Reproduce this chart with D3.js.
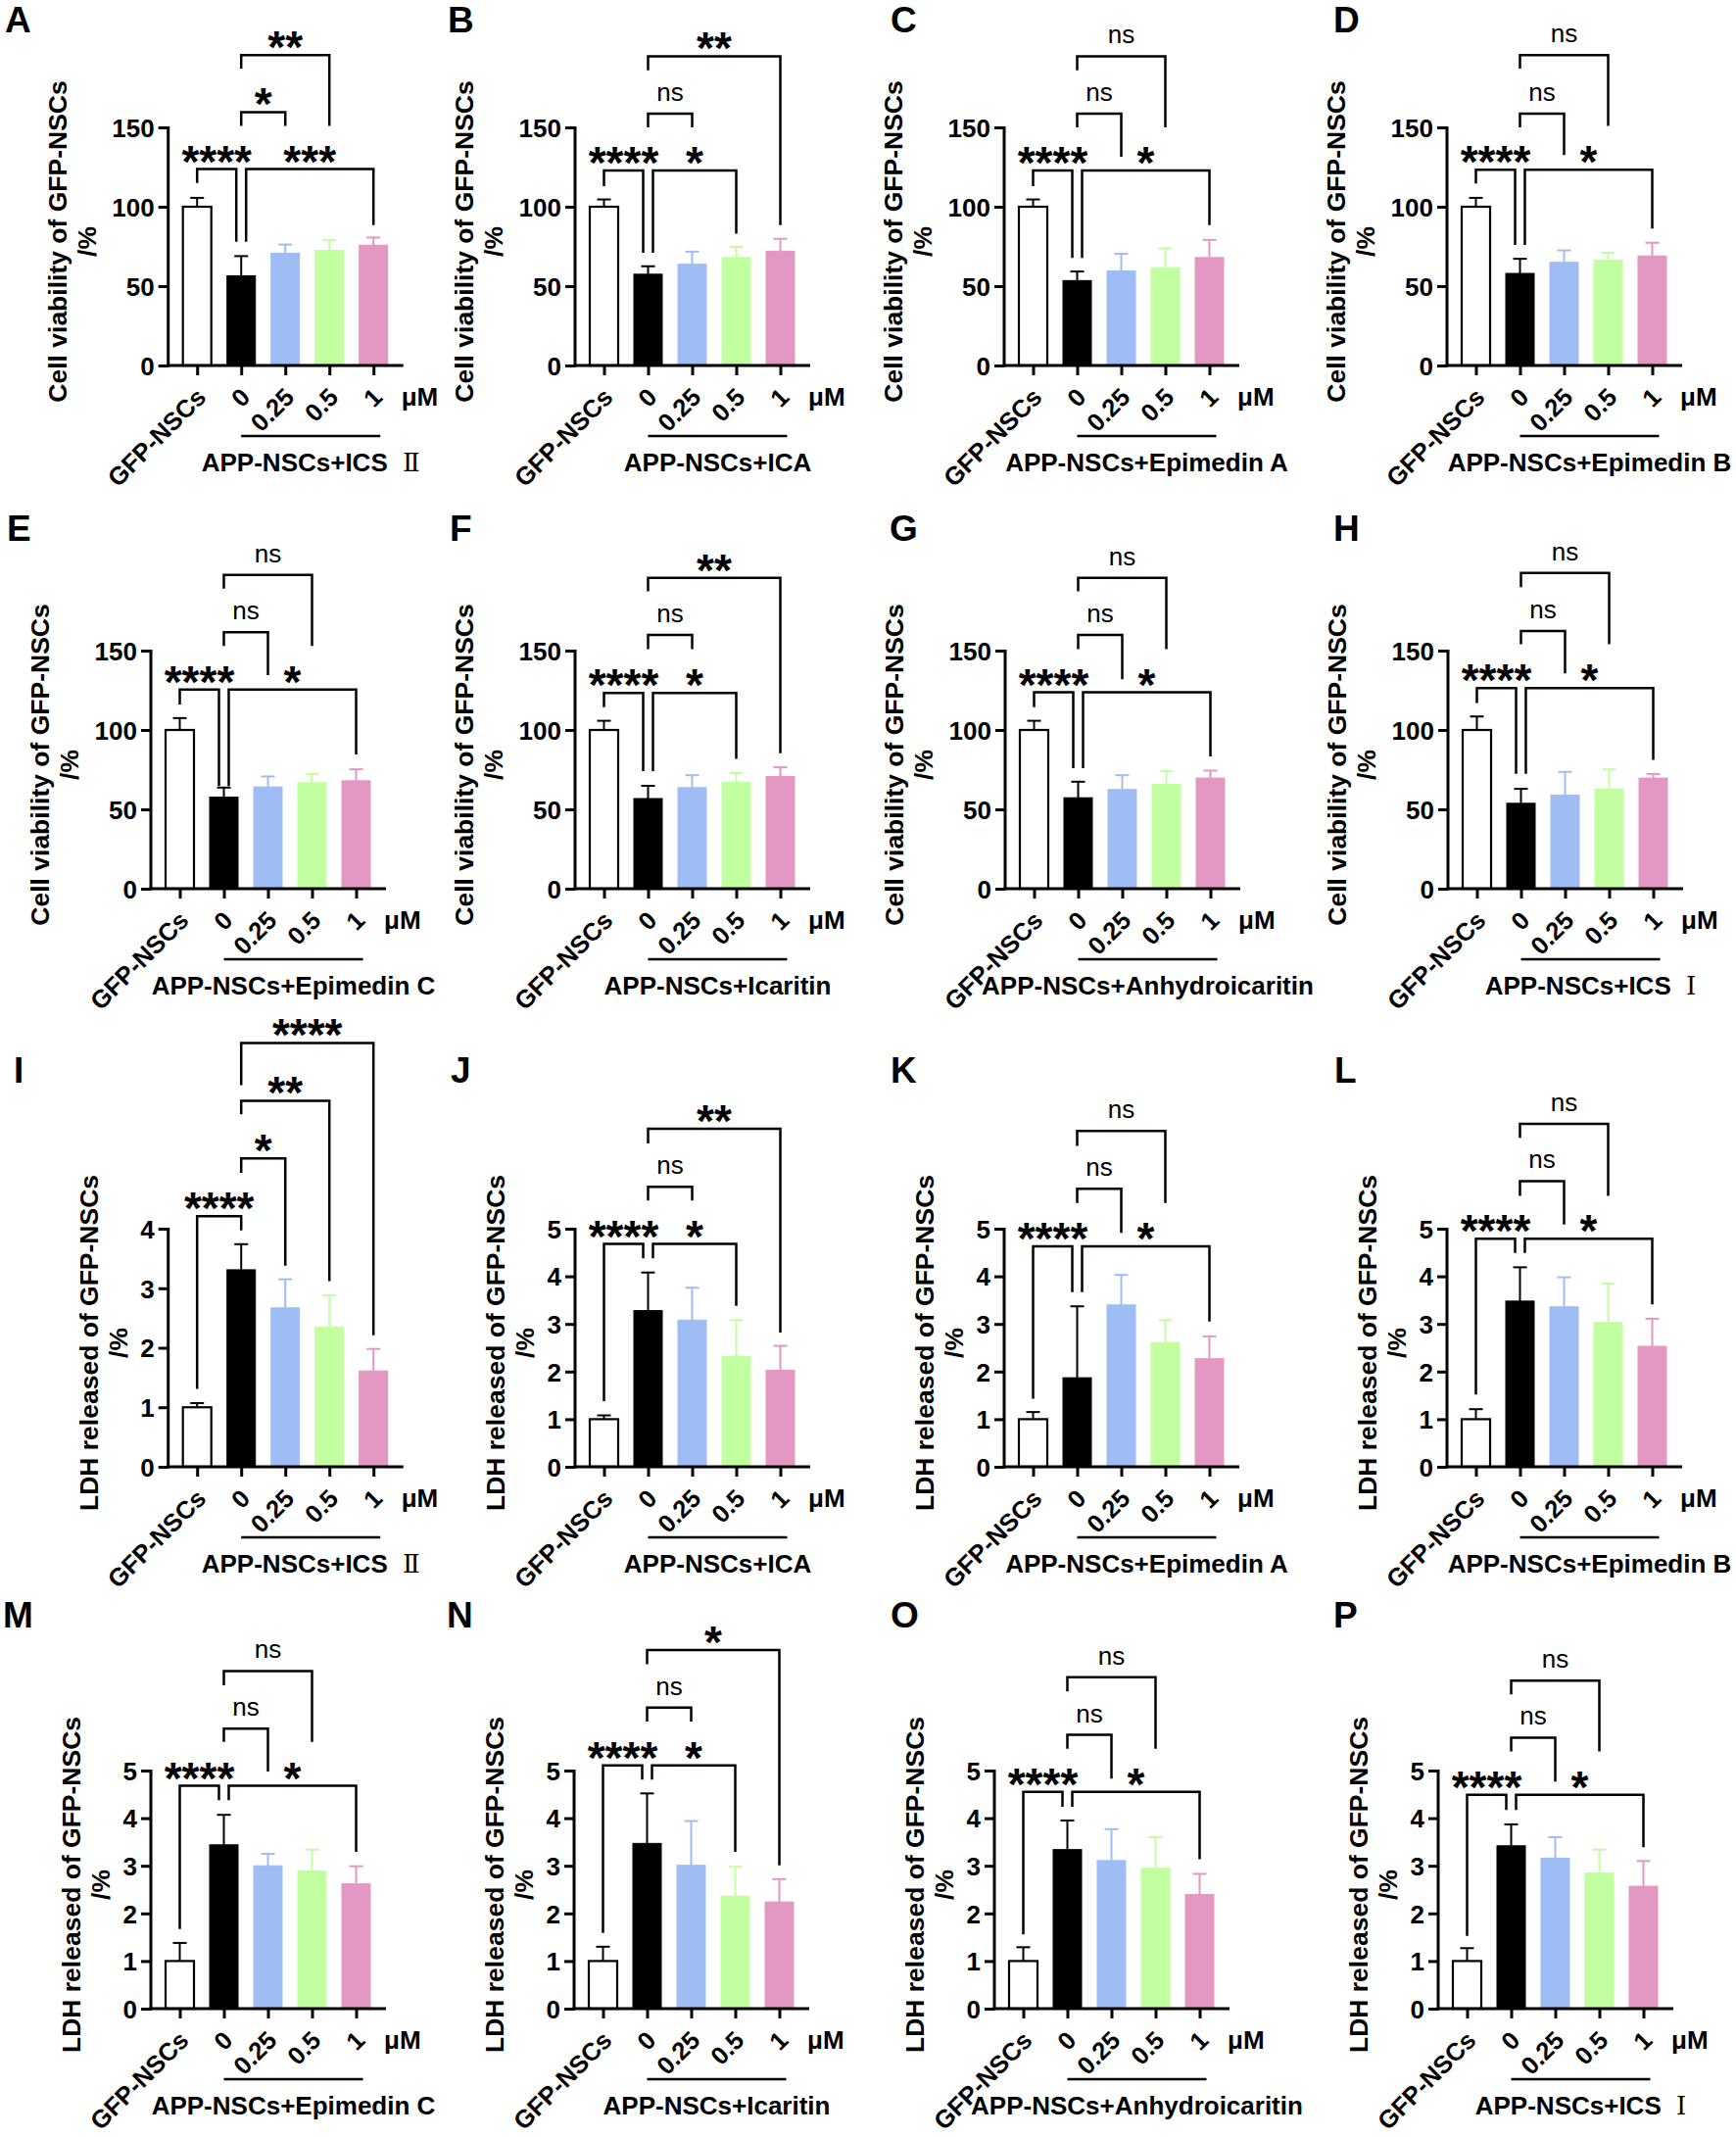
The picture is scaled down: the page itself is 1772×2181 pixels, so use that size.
<!DOCTYPE html>
<html>
<head>
<meta charset="utf-8">
<script src="https://cdn.jsdelivr.net/npm/d3@7"></script>
<style>
  body { margin: 0; background: #fff; }
  svg { display: block; }
</style>
</head>
<body>
<div id="chart"></div>
<script>
// ---- data ----
const panelLetters = ['A','B','C','D','E','F','G','H','I','J','K','L','M','N','O','P']
const compounds = ['ICS Ⅱ', 'ICA', 'Epimedin A', 'Epimedin B', 'Epimedin C', 'Icaritin', 'Anhydroicaritin', 'ICS Ⅰ']
const groups = ['GFP-NSCs', '0', '0.25', '0.5', '1']
const unitLabel = 'μM'
const viabilityTitle = 'Cell viability of GFP-NSCs'
const ldhTitle = 'LDH released of GFP-NSCs'
const viabilityTicks = [0, 50, 100, 150]
const ldhTicks = [0, 1, 2, 3, 4, 5]
const ldhTicksFirst = [0, 1, 2, 3, 4]

// cell viability (%) mean and SD, panels A-H
const viabilityMean = [
	[100, 56.5, 70.7, 72.5, 75.8],
	[100, 57.5, 63.8, 68, 72],
	[100, 53.5, 59.6, 61.6, 68],
	[100, 58, 65, 66.5, 69],
	[100, 57.7, 64.1, 66.8, 68],
	[100, 56.8, 63.7, 67.2, 70.7],
	[100, 57.3, 62.5, 65.7, 69.7],
	[100, 53.8, 59, 62.9, 69.7]
]
const viabilitySd = [
	[5.6, 12.4, 5.5, 6.4, 4.8],
	[4.6, 5, 7.9, 6.8, 7.8],
	[4.6, 5.7, 10.7, 12.2, 11.1],
	[5.6, 9.2, 7.5, 4.5, 8.3],
	[7.5, 6, 6.6, 5.5, 7.2],
	[5.8, 8, 7.8, 5.7, 5.8],
	[5.8, 10.1, 9, 8.3, 4.7],
	[8.5, 9.1, 14.6, 12.3, 2.6]
]
// LDH release mean and SD, panels I-P
const ldhMean = [
	[1, 3.31, 2.67, 2.35, 1.61],
	[1, 3.28, 3.08, 2.32, 2.03],
	[1, 1.87, 3.40, 2.61, 2.27],
	[1, 3.48, 3.36, 3.03, 2.53],
	[1, 3.44, 3.0, 2.89, 2.62],
	[1, 3.47, 3.01, 2.36, 2.24],
	[1, 3.34, 3.11, 2.95, 2.40],
	[1, 3.42, 3.16, 2.85, 2.57]
]
const ldhSd = [
	[0.07, 0.43, 0.48, 0.53, 0.37],
	[0.08, 0.8, 0.68, 0.76, 0.51],
	[0.15, 1.5, 0.63, 0.47, 0.47],
	[0.21, 0.71, 0.62, 0.82, 0.58],
	[0.38, 0.63, 0.25, 0.45, 0.37],
	[0.3, 1.05, 0.93, 0.62, 0.48],
	[0.29, 0.61, 0.66, 0.65, 0.43],
	[0.27, 0.45, 0.44, 0.49, 0.53]
]
// significance brackets: [group from, group to, bracket level, left leg end, right leg end, label]
const viabilityBrackets = [
	[[0, 1, 123.7, 115, 78, '****'], [1, 4, 123.7, 78, 88.5, '***'], [1, 2, 159.6, 151, 151, '*'], [1, 3, 195.6, 187, 151, '**']],
	[[0, 1, 122.9, 113, 71, '****'], [1, 3, 122.9, 71, 83, '*'], [1, 2, 158.6, 150, 150, 'ns'], [1, 4, 194.8, 186, 88.4, '**']],
	[[0, 1, 122.9, 113, 67.8, '****'], [1, 4, 122.9, 67.8, 88.4, '*'], [1, 2, 158.6, 150, 131.5, 'ns'], [1, 3, 194.8, 186, 150, 'ns']],
	[[0, 1, 123.3, 114.6, 76, '****'], [1, 4, 123.3, 76, 86.3, '*'], [1, 2, 158.6, 150, 132.5, 'ns'], [1, 3, 195.6, 187, 151, 'ns']],
	[[0, 1, 125.5, 116, 64.7, '****'], [1, 4, 125.5, 64.7, 84.5, '*'], [1, 2, 161.5, 153, 134.5, 'ns'], [1, 3, 197.7, 189, 153, 'ns']],
	[[0, 1, 123.3, 114.4, 74, '****'], [1, 3, 123.3, 74, 81.8, '*'], [1, 2, 159.9, 151, 151, 'ns'], [1, 4, 195.8, 187.4, 85.3, '**']],
	[[0, 1, 123.7, 114.4, 76, '****'], [1, 4, 123.7, 76, 83.4, '*'], [1, 2, 159.9, 151, 132, 'ns'], [1, 3, 195.8, 187.4, 151, 'ns']],
	[[0, 1, 126.4, 117, 72.3, '****'], [1, 4, 126.4, 72.3, 81.2, '*'], [1, 2, 162.3, 154, 135.6, 'ns'], [1, 3, 198.9, 190, 154, 'ns']]
]
const ldhBrackets = [
	[[0, 1, 4.21, 1.31, 3.97, '****'], [1, 2, 5.18, 4.94, 3.38, '*'], [1, 3, 6.15, 5.92, 3.12, '**'], [1, 4, 7.12, 6.41, 2.21, '****']],
	[[0, 1, 4.68, 1.38, 4.38, '****'], [1, 3, 4.68, 4.38, 3.38, '*'], [1, 2, 5.88, 5.59, 5.59, 'ns'], [1, 4, 7.10, 6.79, 2.82, '**']],
	[[0, 1, 4.63, 1.43, 3.67, '****'], [1, 4, 4.63, 3.67, 3.05, '*'], [1, 2, 5.84, 5.54, 4.91, 'ns'], [1, 3, 7.05, 6.74, 5.54, 'ns']],
	[[0, 1, 4.79, 1.52, 4.49, '****'], [1, 4, 4.79, 4.49, 3.41, '*'], [1, 2, 6.0, 5.69, 5.09, 'ns'], [1, 3, 7.2, 6.91, 5.69, 'ns']],
	[[0, 1, 4.68, 1.67, 4.38, '****'], [1, 4, 4.68, 4.38, 3.29, '*'], [1, 2, 5.88, 5.6, 4.98, 'ns'], [1, 3, 7.09, 6.79, 5.6, 'ns']],
	[[0, 1, 5.11, 1.59, 4.81, '****'], [1, 3, 5.11, 4.81, 3.29, '*'], [1, 2, 6.32, 6.03, 6.03, 'ns'], [1, 4, 7.53, 7.23, 3.01, '*']],
	[[0, 1, 4.55, 1.56, 4.24, '****'], [1, 4, 4.55, 4.24, 3.14, '*'], [1, 2, 5.75, 5.46, 4.83, 'ns'], [1, 3, 6.96, 6.66, 5.46, 'ns']],
	[[0, 1, 4.49, 1.53, 4.17, '****'], [1, 4, 4.49, 4.17, 3.39, '*'], [1, 2, 5.69, 5.40, 4.77, 'ns'], [1, 3, 6.89, 6.6, 5.40, 'ns']]
]

// ---- layout and style ----
const FONT = '"Liberation Sans", Arial, Helvetica, sans-serif'
const barFill = ['#ffffff', '#000000', '#9ebdf5', '#c2ffa0', '#e397c3']
const errColor = ['#000000', '#000000', '#9ebdf5', '#c2ffa0', '#e397c3']
const axisXs = [[171.7, 587, 1025, 1477], [154, 587, 1026, 1478], [171.7, 587, 1025, 1477], [154, 586, 1015, 1468]]
const zeroYs = [373, 907, 1497, 2050]
const letterXs = [[5, 457, 909, 1361], [7, 459, 908, 1361], [14, 460, 909, 1362], [3, 456, 909, 1361]]
const letterYs = [33, 552, 1105, 1661]
const axisH = 243

const svg = d3.select('#chart')
	.append('svg')
	.attr('width', 1772)
	.attr('height', 2181)
	.style('font-family', FONT)

svg.append('rect').attr('width', 1772).attr('height', 2181).attr('fill', '#fff')

function addRoman(sel, str) {
	// roman numerals drawn in a serif face, like the original
	str.split(/([ⅠⅡ])/).filter(s => s.length).forEach(s => {
		const t = sel.append('tspan').text(s)
		if (/[ⅠⅡ]/.test(s)) t.style('font-family', '"DejaVu Serif", "Liberation Serif", serif').attr('font-weight', 'normal').attr('dx', 8)
	})
}

function drawPanel(p) {
	const row = Math.floor(p / 4)
	const col = p % 4
	const ldh = row >= 2
	const k = ldh ? p - 8 : p
	const means = ldh ? ldhMean[k] : viabilityMean[k]
	const sds = ldh ? ldhSd[k] : viabilitySd[k]
	const ticks = ldh ? (k === 0 ? ldhTicksFirst : ldhTicks) : viabilityTicks
	const pairs = ldh ? ldhBrackets[k] : viabilityBrackets[k]
	const ax = axisXs[row][col]
	const zy = zeroYs[row]

	const x = d3.scalePoint()
		.domain(d3.range(groups.length))
		.range([ax + 29.5, ax + 209.5])
	const y = d3.scaleLinear()
		.domain([0, d3.max(ticks)])
		.range([zy, zy - axisH])

	const g = svg.append('g')

	g.append('text')
		.attr('x', letterXs[row][col])
		.attr('y', letterYs[row])
		.attr('font-size', 37)
		.attr('font-weight', 'bold')
		.text(panelLetters[p])

	// bars
	g.selectAll('rect.bar')
		.data(means)
		.join('rect')
		.attr('class', 'bar')
		.attr('x', (d, i) => x(i) - 14.5)
		.attr('width', 29)
		.attr('y', d => y(d))
		.attr('height', d => zy - y(d))
		.attr('fill', (d, i) => barFill[i])
		.attr('stroke', (d, i) => i === 0 ? '#000' : barFill[i])
		.attr('stroke-width', (d, i) => i === 0 ? 2.2 : 1)

	// error bars (upper only)
	const err = g.selectAll('g.err')
		.data(means)
		.join('g')
		.attr('class', 'err')
		.attr('stroke', (d, i) => errColor[i])
		.attr('stroke-width', 2)
	err.append('line')
		.attr('x1', (d, i) => x(i)).attr('x2', (d, i) => x(i))
		.attr('y1', d => y(d)).attr('y2', (d, i) => y(d + sds[i]))
	err.append('line')
		.attr('x1', (d, i) => x(i) - 7).attr('x2', (d, i) => x(i) + 7)
		.attr('y1', (d, i) => y(d + sds[i])).attr('y2', (d, i) => y(d + sds[i]))

	// y axis
	const yAxis = g.append('g')
		.attr('transform', `translate(${ax},0)`)
		.call(d3.axisLeft(y).tickValues(ticks).tickSize(10).tickSizeOuter(0).tickPadding(4).tickFormat(d3.format('d')))
		.attr('font-size', 26)
		.attr('font-family', FONT)
		.attr('font-weight', 'bold')
	yAxis.selectAll('path, line').attr('stroke', '#000').attr('stroke-width', 3)
	yAxis.select('.domain').attr('d', `M0,${zy + 1.5}V${zy - axisH - 1}`)
	yAxis.selectAll('text').attr('fill', '#000').attr('dy', '0.36em')

	// x axis
	const xAxis = g.append('g')
		.attr('transform', `translate(0,${zy})`)
		.call(d3.axisBottom(x).tickSize(10).tickSizeOuter(0).tickFormat(i => groups[i]))
		.attr('font-size', 25.5)
		.attr('font-family', FONT)
		.attr('font-weight', 'bold')
	xAxis.selectAll('path, line').attr('stroke', '#000').attr('stroke-width', 3)
	xAxis.select('.domain').attr('d', `M${ax - 1.5},0H${ax + 240}`)
	xAxis.selectAll('.tick text')
		.attr('fill', '#000')
		.attr('y', 0)
		.attr('dy', 0)
		.attr('text-anchor', 'end')
		.attr('transform', 'translate(10,34) rotate(-45)')

	g.append('text')
		.attr('x', ax + 238)
		.attr('y', zy + 41)
		.attr('font-size', 26)
		.attr('font-weight', 'bold')
		.text(unitLabel)

	const ux1 = x(1)
	const ux2 = x(4) + 7
	g.append('line')
		.attr('x1', ux1).attr('x2', ux2)
		.attr('y1', zy + 72).attr('y2', zy + 72)
		.attr('stroke', '#000').attr('stroke-width', 2.5)

	const glabel = g.append('text')
		.attr('x', (ux1 + ux2) / 2)
		.attr('y', zy + 108)
		.attr('text-anchor', 'middle')
		.attr('font-size', 26)
		.attr('font-weight', 'bold')
	addRoman(glabel, 'APP-NSCs+' + compounds[k])

	// y axis title
	const midY = zy - axisH / 2 - 5
	g.append('text')
		.attr('transform', `translate(${ax - (ldh ? 72 : 104)},${midY}) rotate(-90)`)
		.attr('text-anchor', 'middle')
		.attr('font-size', 26.5)
		.attr('font-weight', 'bold')
		.text(ldh ? ldhTitle : viabilityTitle)
	g.append('text')
		.attr('transform', `translate(${ax - (ldh ? 42 : 74)},${midY}) rotate(-90)`)
		.attr('text-anchor', 'middle')
		.attr('font-size', 26.5)
		.attr('font-weight', 'bold')
		.text('/%')

	// significance brackets
	pairs.forEach(b => {
		const [from, to, level, endA, endB, label] = b
		let xa = x(from)
		let xb = x(to)
		pairs.forEach(o => {
			if (o === b || o[2] !== level) return
			if (o[1] === from) xa += 5
			if (o[0] === to) xb -= 5
		})
		const ly = y(level)
		g.append('path')
			.attr('d', `M${xa},${y(endA)}V${ly}H${xb}V${y(endB)}`)
			.attr('fill', 'none')
			.attr('stroke', '#000')
			.attr('stroke-width', 2.5)
		const isNs = label === 'ns'
		g.append('text')
			.attr('x', (xa + xb) / 2)
			.attr('y', isNs ? ly - 13 : ly + 8)
			.attr('text-anchor', 'middle')
			.attr('font-size', isNs ? 26 : 46)
			.attr('font-weight', isNs ? 'normal' : 'bold')
			.text(label)
	})
}

for (let p = 0; p < panelLetters.length; p++) {
	drawPanel(p)
}
</script>
</body>
</html>
